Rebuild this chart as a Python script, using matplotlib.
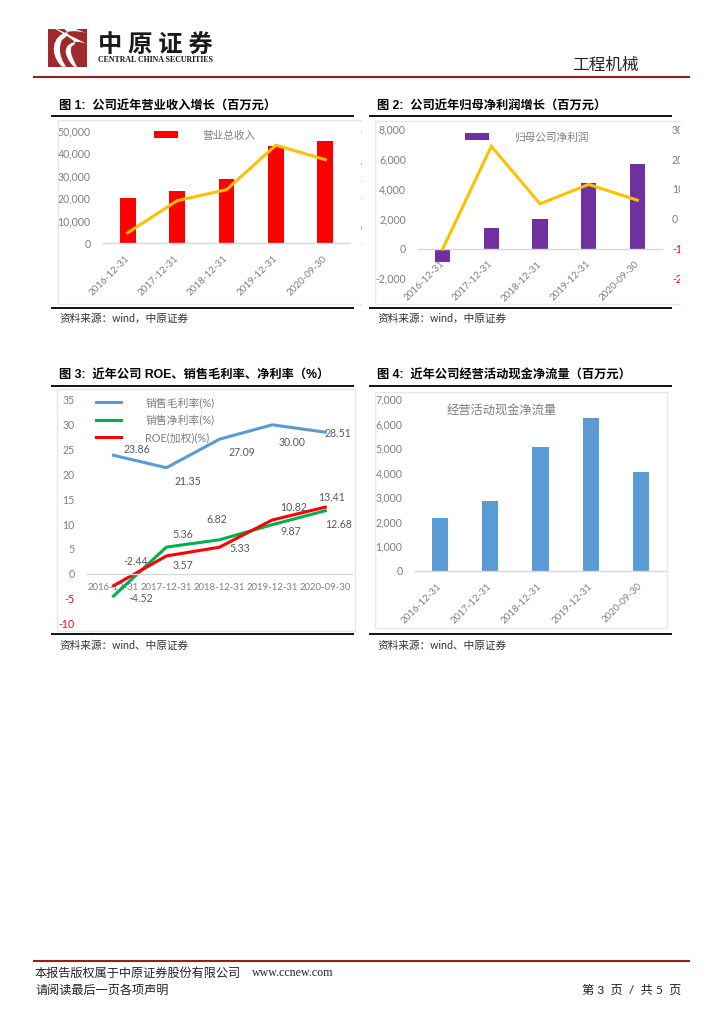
# -*- coding: utf-8 -*-
import matplotlib
matplotlib.use("Agg")
import matplotlib.pyplot as plt
from matplotlib.patches import Rectangle, PathPatch
from matplotlib.path import Path
from matplotlib.transforms import Bbox

plt.rcParams['font.family'] = ['Lato', 'Noto Sans CJK SC', 'DejaVu Sans']

W, H = 724, 1024
GRAY = '#7f7f7f'
DARK_RED = '#9b1c1f'

dates = ['2016-12-31', '2017-12-31', '2018-12-31', '2019-12-31', '2020-09-30']

revenue = [20000, 23300, 28700, 43400, 45300]
revenue_growth = [-3.5, 16.5, 23.3, 51, 42]
net_profit = [-900, 1350, 2000, 4400, 5700]
profit_growth = [-10.2, 24.3, 5.0, 11.5, 6.2]
gross_margin = [23.86, 21.35, 27.09, 30.00, 28.51]
net_margin = [-4.52, 5.36, 6.82, 9.87, 12.68]
roe = [-2.44, 3.57, 5.33, 10.82, 13.41]
cash_flow = [2170, 2850, 5060, 6220, 4020]

# label offsets in pixels from each point
gross_off = [(23, 6), (21, -14), (23, -13), (20, -18), (13, -1)]
net_off = [(27, -2), (16, 13), (-3, 20), (19, -7), (13, -14)]
roe_off = [(22, 24), (17, -10), (20, -1), (21, 12), (6, 10)]

fig = plt.figure(figsize=(W / 100, H / 100), dpi=100)
page = fig.add_axes([0, 0, 1, 1], zorder=0)
page.set_xlim(0, W)
page.set_ylim(H, 0)
page.axis('off')


def rule(x0, x1, y, color='black', lw=1.3):
    page.plot([x0, x1], [y, y], color=color, lw=lw, solid_capstyle='butt')


def panel(x0, x1, y0, y1, open_right=False):
    xs = [x1, x0, x0, x1] if open_right else [x1, x0, x0, x1, x1]
    ys = [y0, y0, y1, y1] if open_right else [y0, y0, y1, y1, y0]
    page.plot(xs, ys, color='#e8e8e8', lw=1)


def plot_axes(x0, x1, y_top, y_bot, ylim, yticks, pad=9):
    ax = fig.add_axes([x0 / W, 1 - y_bot / H, (x1 - x0) / W, (y_bot - y_top) / H], zorder=1)
    ax.patch.set_alpha(0)
    ax.set_xlim(-0.5, 4.5)
    ax.set_ylim(*ylim)
    for side in ['top', 'left', 'right']:
        ax.spines[side].set_visible(False)
    ax.spines['bottom'].set_position(('data', 0))
    ax.spines['bottom'].set_color('#d9d9d9')
    ax.spines['bottom'].set_linewidth(1)
    ax.set_xticks(range(5))
    ax.set_yticks(yticks)
    ax.tick_params(length=0, colors=GRAY, labelsize=7.6)
    ax.tick_params(axis='y', pad=pad)
    return ax


def slanted(ax):
    ax.set_xticks(range(5))
    ax.set_xticklabels(dates, rotation=45, ha='right', va='center', rotation_mode='anchor',
                       fontsize=7.0, color=GRAY)
    ax.tick_params(axis='x', pad=10)


def right_axis(ax, values, ylim, ticks, clip_x, pad):
    ax2 = ax.twinx()
    ax2.set_zorder(2)
    ax2.patch.set_alpha(0)
    ax2.set_ylim(*ylim)
    for s in ax2.spines.values():
        s.set_visible(False)
    ax2.plot(range(5), values, color='#FFC000', lw=2.2, solid_joinstyle='miter')
    ax2.set_yticks(ticks)
    ax2.set_yticklabels([str(t) for t in ticks], fontsize=7.6)
    ax2.tick_params(length=0, pad=pad)
    for t, lab in zip(ticks, ax2.get_yticklabels()):
        lab.set_color('red' if t < 0 else GRAY)
        lab.set_clip_box(Bbox.from_extents(0, 0, clip_x, H))
        lab.set_clip_on(True)
    return ax2


def comma(ticks):
    return [f'{t:,}' for t in ticks]


# header
page.add_patch(Rectangle((48.3, 29), 39, 37.7, fc='#9e2a2b', ec='none'))
swirl = Path([(86, 33), (66, 27), (52, 36), (54, 52), (55, 58), (58, 63), (62, 66.7),
              (66, 66.7), (60, 58), (58, 48), (62, 40), (68, 34), (86, 33)],
             [1, 4, 4, 4, 4, 4, 4, 2, 4, 4, 4, 4, 4])
page.add_patch(PathPatch(swirl, fc='white', ec='none'))
swirl2 = Path([(87, 44), (72, 38), (64, 46), (66, 54), (68, 60), (71, 64), (74, 66.7),
               (77, 66.7), (72, 58), (69, 50), (72, 46), (77, 43), (87, 44)],
              [1, 4, 4, 4, 4, 4, 4, 2, 4, 4, 4, 4, 4])
page.add_patch(PathPatch(swirl2, fc='white', ec='none'))
page.text(155.5, 45, '中 原 证 券', fontsize=17.5, fontweight='bold', ha='center', va='center', color='#1a1a1a')
page.text(155, 60.5, 'CENTRAL CHINA SECURITIES', fontsize=5.7, fontweight='bold', ha='center', va='center',
          family=['Liberation Serif'], color='#1a1a1a')
page.text(605, 65, '工程机械', fontsize=12, ha='center', va='center', color='#222222')
rule(33, 690, 77.3, color=DARK_RED, lw=1.5)

# section titles, rules and panels
titles = ['图 1:  公司近年营业收入增长（百万元）', '图 2:  公司近年归母净利润增长（百万元）',
          '图 3:  近年公司 ROE、销售毛利率、净利率（%）', '图 4:  近年公司经营活动现金净流量（百万元）']
title_xy = [(59, 106), (377, 106), (59, 375), (377, 375)]
for s, (x, y) in zip(titles, title_xy):
    page.text(x, y, s, fontsize=8.8, fontweight='bold', va='center', ha='left', color='black',
              family=['Liberation Sans', 'Noto Sans CJK SC'])

for x0, x1, top, bot in [(51, 354.3, 116.3, 308.3), (369, 672.3, 116.3, 308.3),
                         (51, 354.3, 386, 634), (369, 672.3, 386, 634)]:
    rule(x0, x1, top)
    rule(x0, x1, bot)

sources = ['资料来源：wind，中原证券', '资料来源：wind，中原证券', '资料来源：wind、中原证券', '资料来源：wind、中原证券']
source_xy = [(59, 318), (377, 318), (59, 645), (377, 645)]
for s, (x, y) in zip(sources, source_xy):
    page.text(x, y, s, fontsize=7.7, va='center', ha='left', color='#333333')

panel(57.5, 361, 120, 304, open_right=True)
panel(375, 680, 120.7, 304, open_right=True)
panel(57.3, 354.7, 389.3, 630.7)
panel(375, 666.7, 391.7, 628.3)

# chart 1
t1 = [0, 10000, 20000, 30000, 40000, 50000]
ax1 = plot_axes(103, 350, 130.7, 243.3, (0, 50000), t1)
ax1.bar(range(5), revenue, width=0.32, color='#FF0000', label='营业总收入')
ax1.set_yticklabels(comma(t1))
slanted(ax1)
ax1.legend(loc='center left', bbox_to_anchor=(154, 135), bbox_transform=page.transData, frameon=False,
           fontsize=7.7, labelcolor=GRAY, handlelength=2.25, handleheight=0.6, handletextpad=2.25,
           borderpad=0, borderaxespad=0)
right_axis(ax1, revenue_growth, (-10, 60), [-10, 0, 10, 20, 30, 40, 50, 60], 361.5, 7.7)

# chart 2
t2 = [-2000, 0, 2000, 4000, 6000, 8000]
ax3 = plot_axes(418.3, 661.7, 129.3, 278.3, (-2000, 8000), t2)
ax3.bar(range(5), net_profit, width=0.32, color='#7030A0', label='归母公司净利润')
ax3.set_yticklabels(comma(t2))
slanted(ax3)
ax3.legend(loc='center left', bbox_to_anchor=(465, 137), bbox_transform=page.transData, frameon=False,
           fontsize=7.7, labelcolor=GRAY, handlelength=2.25, handleheight=0.6, handletextpad=2.3,
           borderpad=0, borderaxespad=0)
right_axis(ax3, profit_growth, (-20, 30), [-20, -10, 0, 10, 20, 30], 680, 7.4)

# chart 3
t3 = [-10, -5, 0, 5, 10, 15, 20, 25, 30, 35]
ax4 = plot_axes(87, 351.7, 400, 623.3, (-10, 35), t3)
ax4.plot(range(5), gross_margin, color='#5B9BD5', lw=2.2, label='销售毛利率(%)')
ax4.plot(range(5), net_margin, color='#00B050', lw=2.2, label='销售净利率(%)')
ax4.plot(range(5), roe, color='#FF0000', lw=2.2, label='ROE(加权)(%)')
ax4.set_xticklabels(dates, fontsize=6.9, color=GRAY)
ax4.tick_params(axis='x', pad=7)
ax4.set_yticklabels([str(t) for t in t3])
for t, lab in zip(t3, ax4.get_yticklabels()):
    lab.set_color('red' if t < 0 else GRAY)
for series, offs in [(gross_margin, gross_off), (net_margin, net_off), (roe, roe_off)]:
    for i, (v, off) in enumerate(zip(series, offs)):
        ax4.annotate(f'{v:.2f}', (i, v), xytext=off, textcoords='offset pixels', ha='center', va='center',
                     fontsize=7.6, color='#595959')
ax4.legend(loc='upper left', bbox_to_anchor=(96, 397), bbox_transform=page.transData, frameon=False,
           fontsize=7.8, labelcolor=GRAY, handlelength=2.3, handletextpad=2.25, labelspacing=0.6,
           borderpad=0, borderaxespad=0)

# chart 4
t4 = [0, 1000, 2000, 3000, 4000, 5000, 6000, 7000]
ax5 = plot_axes(415, 666, 399.3, 570.7, (0, 7000), t4)
ax5.bar(range(5), cash_flow, width=0.32, color='#5B9BD5')
ax5.set_yticklabels(comma(t4))
slanted(ax5)
ax5.set_title('经营活动现金净流量', fontsize=8.8, color=GRAY, x=(502 - 415) / 251, y=0.933, va='center', pad=0)

# footer
rule(33, 690, 961.3, color=DARK_RED, lw=1.5)
page.text(35, 973.5, '本报告版权属于中原证券股份有限公司', fontsize=8.75, va='center', color='#222222')
page.text(252, 973.5, 'www.ccnew.com', fontsize=8.6, va='center', family=['Liberation Serif'], color='#222222')
page.text(35, 990, '请阅读最后一页各项声明', fontsize=8.75, va='center', color='#222222')
page.text(681, 990, '第 3  页  /  共 5  页', fontsize=8.75, va='center', ha='right', color='#222222')

fig.savefig('out.png', dpi=100)
